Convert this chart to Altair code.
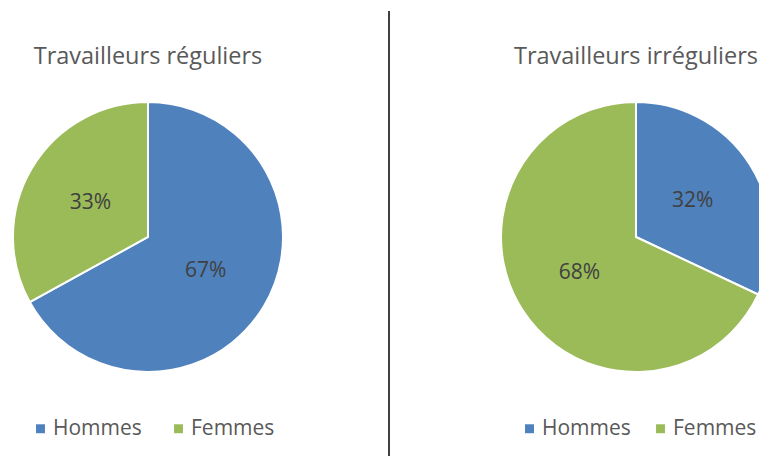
import altair as alt
import pandas as pd

groups = ["Travailleurs réguliers", "Travailleurs irréguliers"]
genders = ["Hommes", "Femmes"]
regular = [67, 33]
irregular = [32, 68]
colors = ["#4F81BD", "#9BBB59"]

rows = []
for g, vals in zip(groups, [regular, irregular]):
    for i, (gen, v) in enumerate(zip(genders, vals)):
        rows.append({"groupe": g, "genre": gen, "valeur": v, "ord": i})
df = pd.DataFrame(rows)
titles = pd.DataFrame({"groupe": groups})

FONT = "Open Sans"
R = 135
centers = {groups[0]: (140, 229), groups[1]: (628, 229)}
legend_x = {groups[0]: 22, groups[1]: 511}
legend_pad = {groups[0]: 26, groups[1]: 19}

layers = []
for gi, g in enumerate(groups):
    cx, cy = centers[g]
    base = alt.Chart(df).transform_filter(alt.datum.groupe == g)
    arc = base.mark_arc(outerRadius=R, stroke="white", strokeWidth=2).encode(
        theta=alt.Theta("valeur:Q", stack=True),
        color=alt.Color(
            "genre:N",
            scale=alt.Scale(domain=genders, range=colors),
            legend=alt.Legend(
                title=None, orient="none", direction="horizontal",
                legendX=legend_x[g], legendY=410,
                symbolType="square", symbolSize=80, symbolStrokeWidth=0,
                labelFontSize=21, labelFont=FONT, labelColor="#595959",
                labelOffset=2, columnPadding=legend_pad[g], labelLimit=200,
            ),
        ),
        order=alt.Order("ord:Q"),
        x=alt.value(cx), y=alt.value(cy),
    )
    lab = base.transform_calculate(lbl="datum.valeur + '%'").mark_text(
        radius=67, fontSize=21, font=FONT, color="#404040"
    ).encode(
        theta=alt.Theta("valeur:Q", stack=True),
        detail="genre:N",
        order=alt.Order("ord:Q"),
        text="lbl:N",
        x=alt.value(cx), y=alt.value(cy),
    )
    title = alt.Chart(titles).transform_filter(alt.datum.groupe == g).mark_text(
        fontSize=23.5, font=FONT, color="#595959", baseline="middle"
    ).encode(text="groupe:N", x=alt.value(cx), y=alt.value(49))
    layers.append(alt.layer(arc, lab, title))

divider = alt.Chart(titles).mark_rule(color="#404040", strokeWidth=2).encode(
    x=alt.value(381), y=alt.value(3), y2=alt.value(448)
)

chart = alt.layer(layers[0], layers[1], divider).resolve_scale(
    color="independent"
).resolve_legend(color="independent").properties(
    width=751, height=448, padding=0, autosize=alt.AutoSizeParams(type="none")
).configure_view(stroke=None)

chart.save("out.html", embed_options={"renderer": "svg", "actions": False})
